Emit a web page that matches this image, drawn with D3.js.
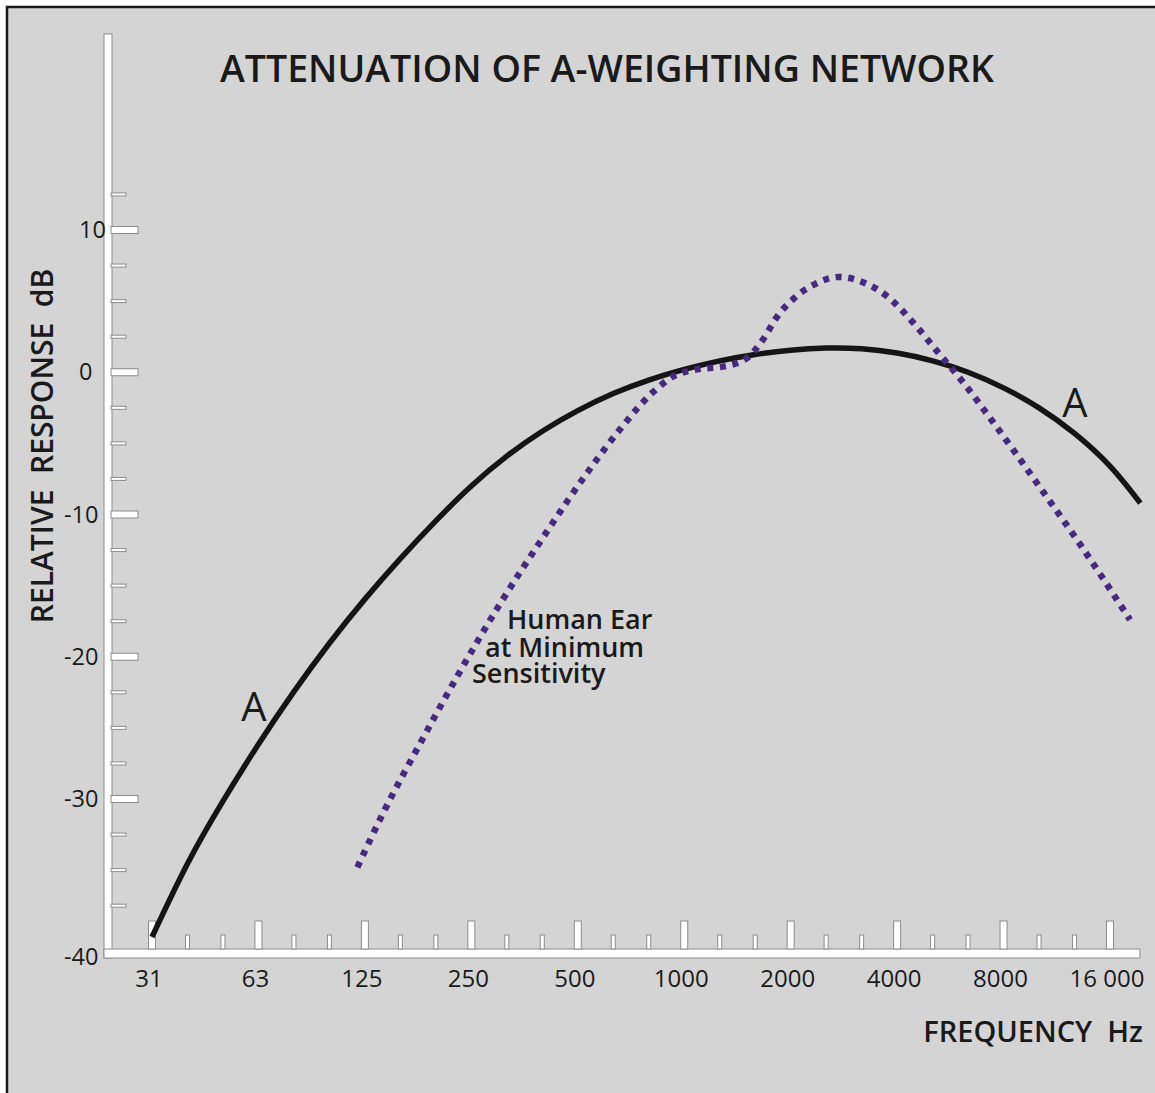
<!DOCTYPE html>
<html>
<head>
<meta charset="utf-8">
<script src="https://cdn.jsdelivr.net/npm/d3@7"></script>
<style>
  body { margin: 0; background: #fff; }
  text { font-family: "Open Sans", "DejaVu Sans", sans-serif; fill: #1a1a1a; }
</style>
</head>
<body>
<svg id="chart"></svg>
<script>
// A-weighting curve (third-octave centres in Hz, dB)
var aFreq = [31.25, 39.37, 49.61, 62.5, 78.75, 99.21, 125, 157.5, 198.4, 250, 315, 396.9, 500, 630, 793.7, 1000, 1260, 1587, 2000, 2520, 3175, 4000, 5040, 6350, 8000, 10079, 12699, 16000, 19500]
var aDb = [-39.7, -34.55, -30.15, -26.15, -22.45, -19.05, -15.95, -13.1, -10.45, -8.0, -5.9, -4.15, -2.7, -1.5, -0.55, 0.2, 0.8, 1.25, 1.55, 1.7, 1.65, 1.35, 0.8, 0.0, -1.1, -2.5, -4.3, -6.6, -9.2]

// human ear at minimum sensitivity (dotted)
var earFreq = [119, 142, 180, 229, 296, 404, 534, 654, 816, 930, 1087, 1288, 1505, 1670, 1830, 2045, 2344, 2741, 3225, 3722, 4438, 5220, 6144, 7470, 10013, 13335, 18231]
var earDb = [-34.8, -30.8, -26.0, -21.3, -16.6, -11.4, -7.0, -4.1, -1.4, -0.3, 0.2, 0.4, 1.0, 2.3, 3.9, 5.2, 6.2, 6.7, 6.3, 5.4, 3.5, 1.4, -0.7, -3.5, -7.9, -12.3, -17.4]

var xTicks = [31.25, 62.5, 125, 250, 500, 1000, 2000, 4000, 8000, 16000]
var xTickLabels = ['31', '63', '125', '250', '500', '1000', '2000', '4000', '8000', '16 000']
var yTicks = [10, 0, -10, -20, -30]
var yTickLabels = ['10', '0', '-10', '-20', '-30']

var dims = {
    width: 1155,
    height: 1093,
    axisLeft: 104,
    axisTop: 34,
    axisBottom: 958,
    axisRight: 1140
}

var svg = d3.select("#chart")
    .attr("width", dims.width)
    .attr("height", dims.height)

// grey panel with black frame (runs off the right / bottom edge)
svg.append("rect")
    .attr("x", 7).attr("y", 7)
    .attr("width", dims.width + 20).attr("height", dims.height + 20)
    .attr("fill", "#d4d4d4")
    .attr("stroke", "#1a1a1a")
    .attr("stroke-width", 2.5)

var xScale = d3.scaleLog().base(2)
    .domain([31.25, 16000])
    .range([152, 1110])

var yScale = d3.scaleLinear()
    .domain([-30, 10])
    .range([799, 230])

// minor ticks: third octaves and 2.5 dB steps
var xMinor = d3.range(-15, 13).filter(n => n % 3 != 0).map(n => 1000 * Math.pow(2, n / 3))
var yMinor = d3.range(-37.5, 13, 2.5).filter(v => v % 10 != 0)

var axisStroke = "#8c8c8c"

// axis bars
svg.append("rect")
    .attr("x", dims.axisLeft).attr("y", dims.axisTop)
    .attr("width", 8).attr("height", dims.axisBottom - dims.axisTop)
    .attr("fill", "white").attr("stroke", axisStroke).attr("stroke-width", 1)

svg.append("rect")
    .attr("x", dims.axisLeft).attr("y", dims.axisBottom - 9)
    .attr("width", dims.axisRight - dims.axisLeft).attr("height", 9)
    .attr("fill", "white").attr("stroke", axisStroke).attr("stroke-width", 1)

// y ticks
svg.append("g").selectAll("rect")
    .data(yMinor)
    .enter()
    .append("rect")
    .attr("x", dims.axisLeft + 7)
    .attr("y", d => yScale(d) - 1.5)
    .attr("width", 15).attr("height", 3)
    .attr("fill", "white").attr("stroke", axisStroke).attr("stroke-width", 1)

svg.append("g").selectAll("rect")
    .data(yTicks)
    .enter()
    .append("rect")
    .attr("x", dims.axisLeft + 7)
    .attr("y", d => yScale(d) - 3.5)
    .attr("width", 27).attr("height", 7)
    .attr("fill", "white").attr("stroke", axisStroke).attr("stroke-width", 1)

// x ticks
svg.append("g").selectAll("rect")
    .data(xMinor)
    .enter()
    .append("rect")
    .attr("x", d => xScale(d) - 2)
    .attr("y", dims.axisBottom - 23)
    .attr("width", 4).attr("height", 14)
    .attr("fill", "white").attr("stroke", axisStroke).attr("stroke-width", 1)

svg.append("g").selectAll("rect")
    .data(xTicks)
    .enter()
    .append("rect")
    .attr("x", d => xScale(d) - 3.5)
    .attr("y", dims.axisBottom - 37)
    .attr("width", 7).attr("height", 28)
    .attr("fill", "white").attr("stroke", axisStroke).attr("stroke-width", 1)

// tick labels
svg.append("g").selectAll("text")
    .data(yTicks)
    .enter()
    .append("text")
    .attr("x", (d, i) => d < 0 ? 64 : 79)
    .attr("y", d => yScale(d) + 8)
    .attr("font-size", 23.5)
    .text((d, i) => yTickLabels[i])

svg.append("text")
    .attr("x", 64)
    .attr("y", dims.axisBottom + 7)
    .attr("font-size", 23.5)
    .text("-40")

svg.append("g").selectAll("text")
    .data(xTicks)
    .enter()
    .append("text")
    .attr("x", d => xScale(d) - 3)
    .attr("y", 987)
    .attr("text-anchor", "middle")
    .attr("font-size", 24)
    .text((d, i) => xTickLabels[i])

// curves
var lineA = d3.line()
    .x(d => xScale(d[0]))
    .y(d => yScale(d[1]))
    .curve(d3.curveNatural)

var lineEar = d3.line()
    .x(d => xScale(d[0]))
    .y(d => yScale(d[1]))
    .curve(d3.curveMonotoneX)

svg.append("path")
    .datum(aFreq.map((f, i) => [f, aDb[i]]))
    .attr("d", lineA)
    .attr("fill", "none")
    .attr("stroke", "#151515")
    .attr("stroke-width", 5.5)

svg.append("path")
    .datum(earFreq.map((f, i) => [f, earDb[i]]))
    .attr("d", lineEar)
    .attr("fill", "none")
    .attr("stroke", "#472a80")
    .attr("stroke-width", 6.5)
    .attr("stroke-dasharray", "6 6.7")

// titles and labels
svg.append("text")
    .attr("x", 607).attr("y", 82)
    .attr("text-anchor", "middle")
    .attr("font-size", 37.5)
    .attr("font-weight", 600)
    .text("ATTENUATION OF A-WEIGHTING NETWORK")

svg.append("text")
    .attr("transform", "translate(53, 446) rotate(-90)")
    .attr("text-anchor", "middle")
    .attr("font-size", 30)
    .attr("font-weight", 600)
    .style("white-space", "pre")
    .text("RELATIVE  RESPONSE  dB")

svg.append("text")
    .attr("x", 1143).attr("y", 1042)
    .attr("text-anchor", "end")
    .attr("font-size", 29)
    .attr("font-weight", 600)
    .style("white-space", "pre")
    .text("FREQUENCY  Hz")

svg.append("text")
    .attr("x", 254).attr("y", 721)
    .attr("text-anchor", "middle")
    .attr("font-size", 40)
    .text("A")

svg.append("text")
    .attr("x", 1075).attr("y", 417)
    .attr("text-anchor", "middle")
    .attr("font-size", 40)
    .text("A")

var earLabel = [["Human Ear", 507, 629], ["at Minimum", 485, 657], ["Sensitivity", 472, 683]]
svg.append("g").selectAll("text")
    .data(earLabel)
    .enter()
    .append("text")
    .attr("x", d => d[1])
    .attr("y", d => d[2])
    .attr("font-size", 27)
    .attr("font-weight", 600)
    .text(d => d[0])
</script>
</body>
</html>
